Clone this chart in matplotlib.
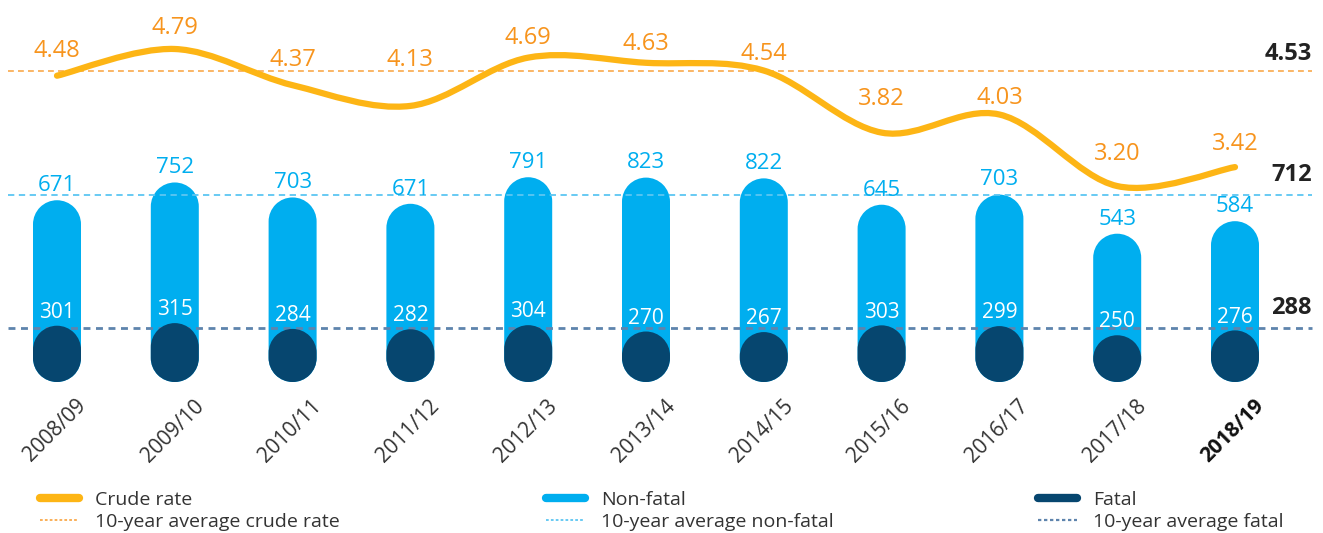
import numpy as np
import matplotlib
matplotlib.use('Agg')
import matplotlib.pyplot as plt
from matplotlib.path import Path
from matplotlib.patches import PathPatch
from matplotlib.lines import Line2D
from matplotlib import font_manager
from matplotlib.transforms import ScaledTranslation

# ---------------- data ----------------
years = ['2008/09', '2009/10', '2010/11', '2011/12', '2012/13', '2013/14',
         '2014/15', '2015/16', '2016/17', '2017/18', '2018/19']
crude_rate = [4.48, 4.79, 4.37, 4.13, 4.69, 4.63, 4.54, 3.82, 4.03, 3.20, 3.42]
non_fatal = [671, 752, 703, 671, 791, 823, 822, 645, 703, 543, 584]
fatal = [301, 315, 284, 282, 304, 270, 267, 303, 299, 250, 276]
avg_crude = 4.53
avg_non_fatal = 712
avg_fatal = 288

# label placement above the crude-rate line (pixels above point, style only)
crude_label_lift_px = [25, 21, 25, 46, 20, 19, 17, 34, 17, 32, 23]

# ---------------- style ----------------
C_LIGHT = '#00AEEF'
C_DARK = '#06466F'
C_LINE = '#FDB515'
C_CRUDE_TXT = '#F7941D'
C_AVG_CRUDE = '#F9A94B'
C_AVG_NF = '#5CC6F2'
C_AVG_F = '#5E84AD'

avail = {f.name for f in font_manager.fontManager.ttflist}
NUM_FONT = 'Open Sans' if 'Open Sans' in avail else 'DejaVu Sans'
plt.rcParams['font.family'] = [NUM_FONT, 'DejaVu Sans']

W, H, DPI = 1323, 533, 100
PX2PT = 72 / DPI
fig = plt.figure(figsize=(W / DPI, H / DPI), dpi=DPI)

base_px = 382          # baseline distance from the top (px)
step_px = 117.8        # spacing of categories (px)
first_px = 57          # first category centre (px)
bar_px = 48            # bar width (px)
scale_bar = 0.187      # px per count
ax = fig.add_axes([0, (H - base_px) / H, 1, base_px / H])
ax.set_xlim(-first_px / step_px, (W - first_px) / step_px)
ax.set_ylim(0, base_px / scale_bar)
for s in ax.spines.values():
    s.set_visible(False)
ax.set_yticks([])

x = np.arange(len(years))
totals = np.array(non_fatal) + np.array(fatal)
w = bar_px / step_px

xr = ax.get_xlim()[1] - ax.get_xlim()[0]
yr = ax.get_ylim()[1] - ax.get_ylim()[0]
aspect = (yr / base_px) / (xr / W)


def capsule(rect, color, z):
    x0, y0 = rect.get_x(), rect.get_y()
    bw, bh = rect.get_width(), rect.get_height()
    rx = bw / 2
    ry = min(rx * aspect, bh / 2)
    xc = x0 + rx
    top = Path.arc(0, 180)
    bot = Path.arc(180, 360)
    tv = top.vertices * [rx, ry] + [xc, y0 + bh - ry]
    bv = bot.vertices * [rx, ry] + [xc, y0 + ry]
    bc = bot.codes.copy()
    bc[0] = Path.LINETO
    verts = np.vstack([tv, bv, tv[:1]])
    codes = np.concatenate([top.codes, bc, [Path.CLOSEPOLY]])
    ax.add_patch(PathPatch(Path(verts, codes), facecolor=color,
                           edgecolor='none', zorder=z))
    rect.set_visible(False)


bars_nf = ax.bar(x, totals, width=w, color=C_LIGHT)
bars_f = ax.bar(x, fatal, width=w, color=C_DARK)
for r in bars_nf:
    capsule(r, C_LIGHT, 2)
for r in bars_f:
    capsule(r, C_DARK, 4)

# average lines
x_lo, x_hi = (8 - first_px) / step_px, (1312 - first_px) / step_px
ax.hlines(avg_non_fatal + avg_fatal, x_lo, x_hi, colors=C_AVG_NF, lw=1.3,
          linestyles=(0, (3.5, 2.5)), zorder=3)
ax.hlines(avg_fatal, x_lo, x_hi, colors=C_AVG_F, lw=2.0,
          linestyles=(0, (2.5, 2)), zorder=3)

# bar labels
for i in range(len(years)):
    ax.annotate(str(non_fatal[i]), (x[i], totals[i]), xytext=(0, 3),
                textcoords='offset points', ha='center', va='bottom',
                color=C_LIGHT, fontsize=16, zorder=6)
    ax.annotate(str(fatal[i]), (x[i], fatal[i]), xytext=(0, 2),
                textcoords='offset points', ha='center', va='bottom',
                color='white', fontsize=15, zorder=6)

ax.annotate(str(avg_non_fatal), (x_hi, avg_non_fatal + avg_fatal), xytext=(0, 6),
            textcoords='offset points', ha='right', va='bottom',
            color='#222222', fontsize=17, fontweight='bold')
ax.annotate(str(avg_fatal), (x_hi, avg_fatal), xytext=(0, 6),
            textcoords='offset points', ha='right', va='bottom',
            color='#222222', fontsize=17, fontweight='bold')

# x tick labels
ax.set_xticks(x)
ax.set_xticklabels(years, rotation=45, ha='right', va='center',
                   rotation_mode='anchor', fontsize=15, color='#333333')
ax.tick_params(axis='x', length=0, pad=15)
for lab in ax.get_xticklabels():
    lab.set_transform(lab.get_transform() + ScaledTranslation(0.26, 0, fig.dpi_scale_trans))
ax.get_xticklabels()[-1].set_fontweight('bold')
ax.get_xticklabels()[-1].set_color('#111111')

# crude rate axis
ax2 = ax.twinx()
top_px_val = 49
scale_rate = 86.2
ax2.set_ylim(4.79 - (base_px - top_px_val) / scale_rate, 4.79 + top_px_val / scale_rate)
ax2.set_xlim(ax.get_xlim())
for s in ax2.spines.values():
    s.set_visible(False)
ax2.set_yticks([])

P = np.column_stack([x, crude_rate]).astype(float)
Pe = np.vstack([P[0], P, P[-1]])
verts = [P[0]]
codes = [Path.MOVETO]
for i in range(len(P) - 1):
    p0, p1, p2, p3 = Pe[i], Pe[i + 1], Pe[i + 2], Pe[i + 3]
    verts += [p1 + (p2 - p0) / 6, p2 - (p3 - p1) / 6, p2]
    codes += [Path.CURVE4] * 3
ax2.add_patch(PathPatch(Path(np.array(verts), codes), facecolor='none',
                        edgecolor=C_LINE, lw=4.5, capstyle='round', zorder=5))
ax2.hlines(avg_crude, x_lo, x_hi, colors=C_AVG_CRUDE, lw=1.2,
           linestyles=(0, (3.5, 2.5)), zorder=3)
for i, v in enumerate(crude_rate):
    ax2.annotate(f'{v:.2f}', (x[i], v), xytext=(0, crude_label_lift_px[i] * PX2PT),
                 textcoords='offset points', ha='center', va='center',
                 color=C_CRUDE_TXT, fontsize=17)
ax2.annotate(f'{avg_crude:.2f}', (x_hi, avg_crude), xytext=(0, 4),
             textcoords='offset points', ha='right', va='bottom',
             color='#222222', fontsize=17, fontweight='bold')

# legends
leg_cols = [
    (40, [Line2D([], [], color=C_LINE, lw=6, solid_capstyle='round'),
          Line2D([], [], color=C_AVG_CRUDE, lw=1.3, ls=(0, (1.5, 1.2)))],
     ['Crude rate', '10-year average crude rate']),
    (546, [Line2D([], [], color=C_LIGHT, lw=6, solid_capstyle='round'),
           Line2D([], [], color=C_AVG_NF, lw=1.3, ls=(0, (1.5, 1.2)))],
     ['Non-fatal', '10-year average non-fatal']),
    (1038, [Line2D([], [], color=C_DARK, lw=6, solid_capstyle='round'),
            Line2D([], [], color=C_AVG_F, lw=1.6, ls=(0, (1.5, 1.2)))],
     ['Fatal', '10-year average fatal']),
]
for xp, hs, ls_ in leg_cols:
    fig.legend(hs, ls_, loc='upper left', bbox_to_anchor=(xp / W, 1 - 491 / H),
               frameon=False, handlelength=2.0, handletextpad=0.85, borderpad=0,
               borderaxespad=0, labelspacing=0.2,
               prop={'family': NUM_FONT, 'size': 14}, labelcolor='#333333')

fig.savefig('out.png', dpi=DPI)
